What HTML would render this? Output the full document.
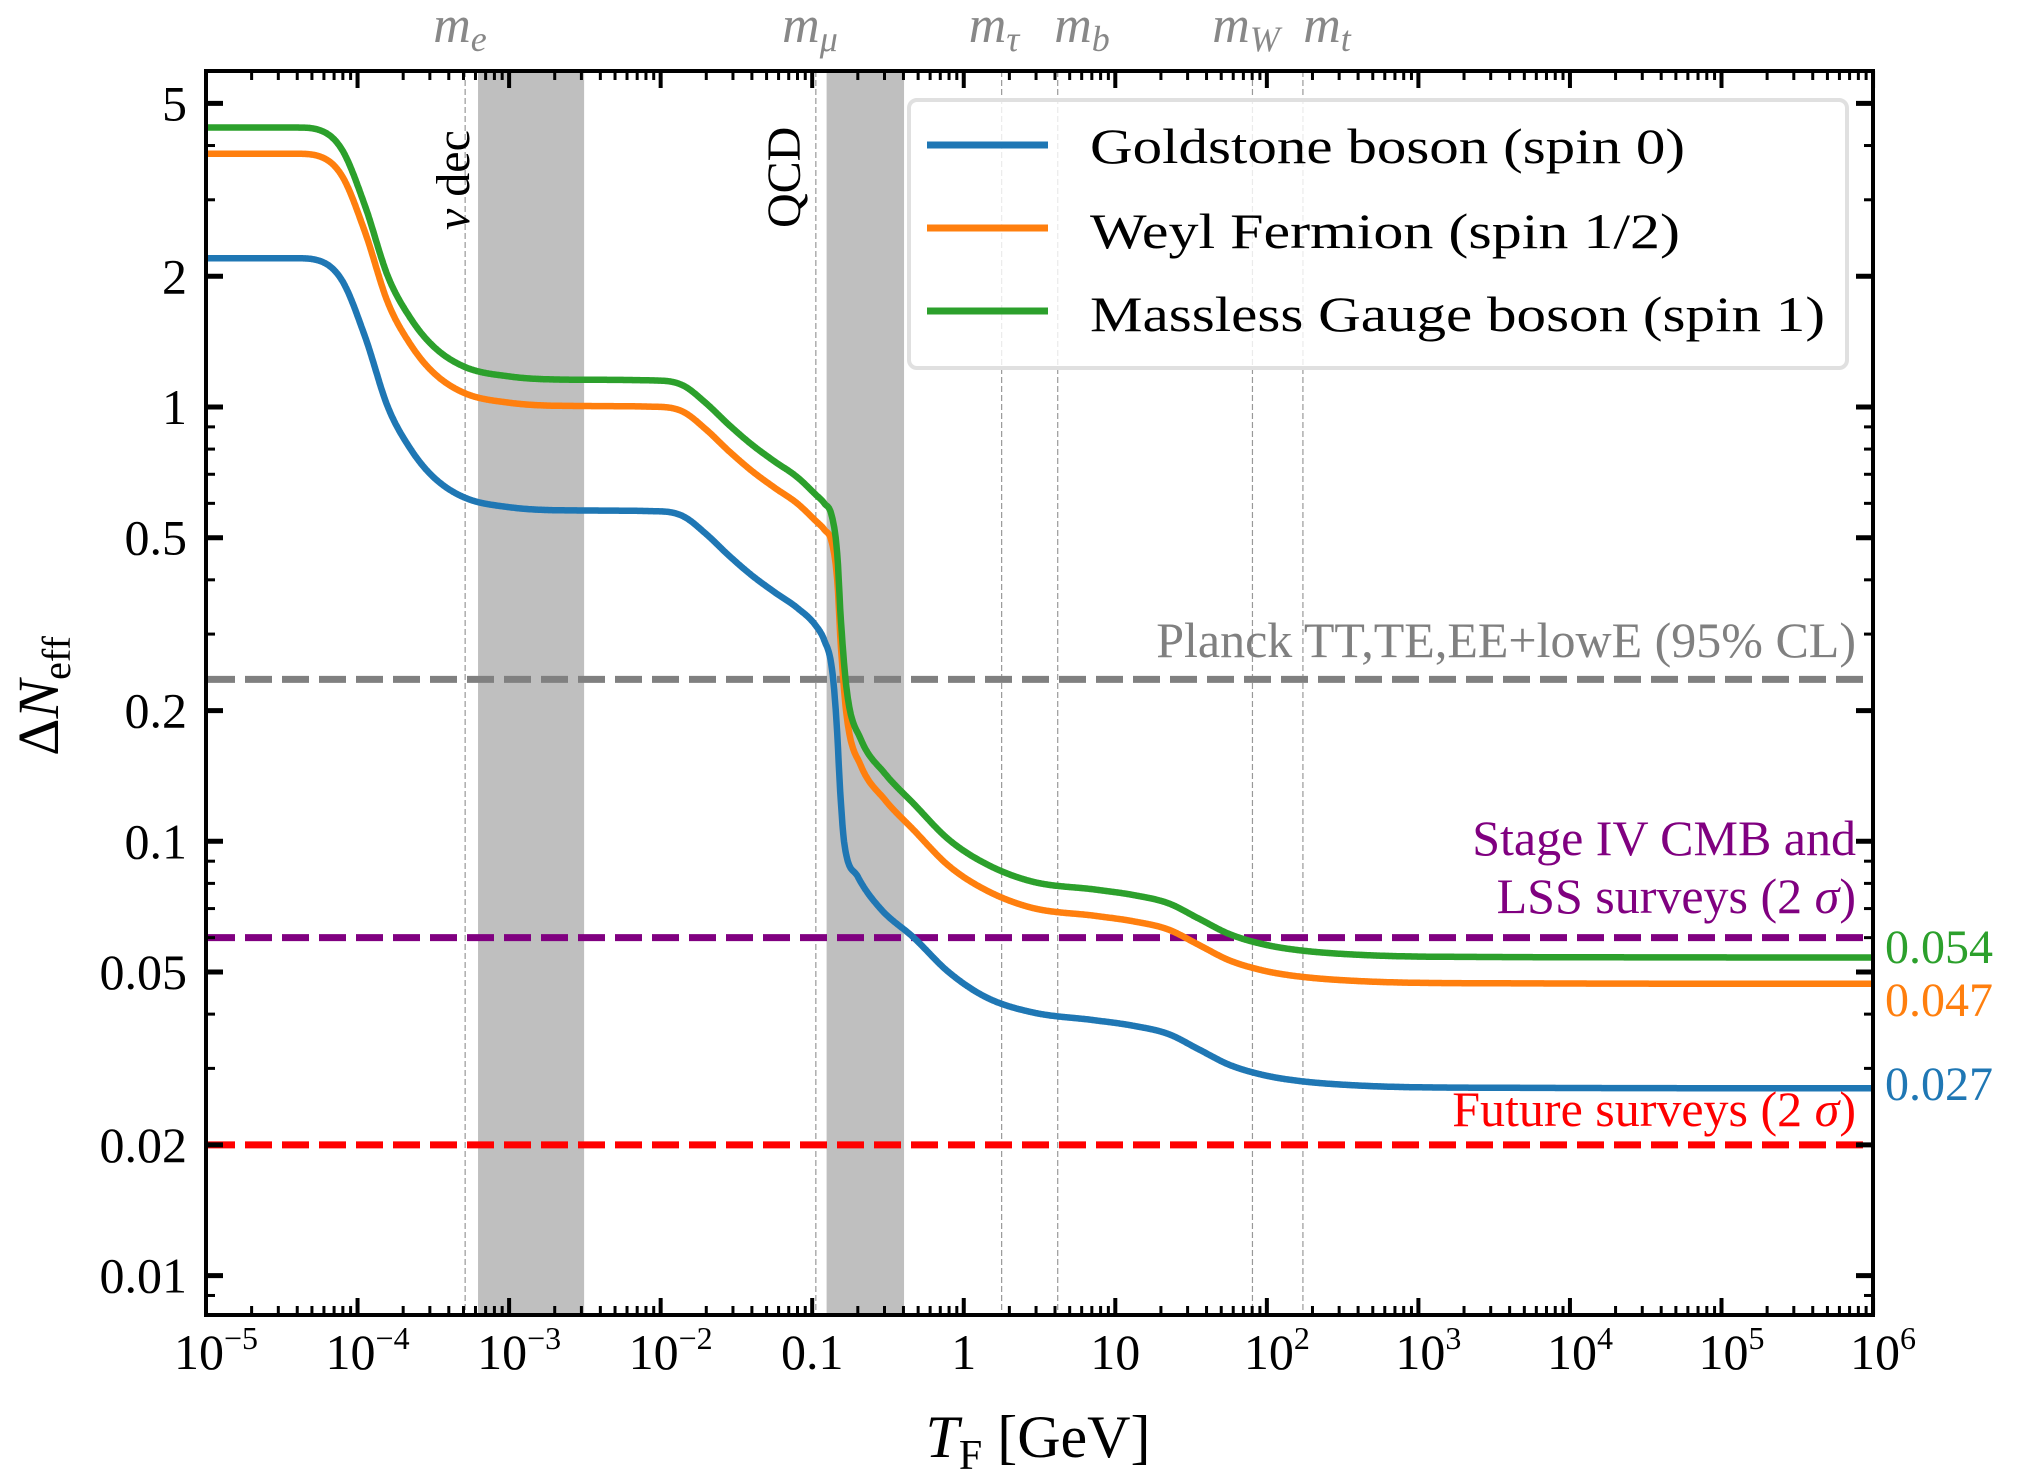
<!DOCTYPE html>
<html><head><meta charset="utf-8"><style>
html,body{margin:0;padding:0;background:#fff;width:2022px;height:1484px;overflow:hidden}
svg{display:block;font-family:"Liberation Serif","DejaVu Serif",serif}
</style></head><body>
<svg id="s" width="2022" height="1484" xmlns="http://www.w3.org/2000/svg"></svg>
<script>
const S=document.getElementById('s');
const L=206,R=1873,T=71,B=1315;
const X=lt=>L+(lt+5)*151.55;
const Y=v=>407-Math.log10(v)*434.3;
let h='';
h+=`<defs><clipPath id="c"><rect x="${L}" y="${T}" width="${R-L}" height="${B-T}"/></clipPath></defs>`;
h+=`<rect x="${X(-3.205)}" y="${T}" width="${X(-2.505)-X(-3.205)}" height="${B-T}" fill="#bfbfbf"/>`;
h+=`<rect x="${X(-0.905)}" y="${T}" width="${X(-0.394)-X(-0.905)}" height="${B-T}" fill="#bfbfbf"/>`;
const ms=[-3.29,-0.976,0.25,0.62,1.905,2.238];
ms.forEach(m=>{h+=`<line x1="${X(m)}" x2="${X(m)}" y1="${T}" y2="${B}" stroke="#999" stroke-width="1.2" stroke-dasharray="6 3"/>`;});
const tl=[[468,'e'],[818,'μ'],[1002,'τ'],[1090,'b'],[1254,'W'],[1335,'t']];
tl.forEach(t=>{h+=`<text x="${t[0]-8}" y="42" fill="#888" font-size="52" font-style="italic" text-anchor="middle">m<tspan font-size="36" dy="9">${t[1]}</tspan></text>`;});
[[0.236,'#808080'],[0.06,'#800080'],[0.02,'#ff0000']].forEach(d=>{h+=`<line x1="${L+2}" x2="1866" y1="${Y(d[0])}" y2="${Y(d[0])}" stroke="${d[1]}" stroke-width="7" stroke-dasharray="27 10"/>`;});
function interp(pts){
 const xs=pts.map(p=>p[0]),ys=pts.map(p=>Math.log10(p[1]));const n=xs.length;
 const d=[],m=new Array(n);
 for(let i=0;i<n-1;i++)d.push((ys[i+1]-ys[i])/(xs[i+1]-xs[i]));
 m[0]=d[0];m[n-1]=d[n-2];
 for(let i=1;i<n-1;i++){m[i]=(d[i-1]*d[i]<=0)?0:(d[i-1]+d[i])/2;}
 for(let i=0;i<n-1;i++){if(d[i]===0){m[i]=0;m[i+1]=0;continue;}const a=m[i]/d[i],b=m[i+1]/d[i];const s=a*a+b*b;if(s>9){const t=3/Math.sqrt(s);m[i]=t*a*d[i];m[i+1]=t*b*d[i];}}
 return x=>{let i=0;while(i<n-2&&x>xs[i+1])i++;const hh=xs[i+1]-xs[i],t=(x-xs[i])/hh;
  const h00=2*t*t*t-3*t*t+1,h10=t*t*t-2*t*t+t,h01=-2*t*t*t+3*t*t,h11=t*t*t-t*t;
  return Math.pow(10,h00*ys[i]+h10*hh*m[i]+h01*ys[i+1]+h11*hh*m[i+1]);};
}
const head=[[-5,2.2],[-4.4,2.2],[-4.25,2.17],[-4.1,1.95],[-3.95,1.45],[-3.8,1.0],[-3.65,0.8],[-3.5,0.69],[-3.3,0.62],[-3.0,0.588],[-2.6,0.578],[-2.0,0.575],[-1.85,0.56],[-1.7,0.51],[-1.55,0.455],[-1.4,0.41],[-1.25,0.375],[-1.1,0.345],[-0.98,0.315]];
const tail=[[0.45,0.0404],[0.87,0.0387],[1.12,0.0376],[1.35,0.036],[1.55,0.0332],[1.75,0.0306],[1.97,0.029],[2.2,0.0281],[2.6,0.0274],[3.2,0.0271],[6,0.027]];
const G=head.concat([[-0.92,0.29],[-0.87,0.25],[-0.84,0.19],[-0.815,0.13],[-0.79,0.1],[-0.7,0.083],[-0.55,0.07],[-0.33,0.06],[-0.1,0.05],[0.15,0.0437]],tail);
const OG=head.concat([[-0.92,0.3],[-0.87,0.28],[-0.835,0.23],[-0.81,0.16],[-0.77,0.11],[-0.68,0.086],[-0.52,0.0716],[-0.33,0.061],[-0.1,0.0505],[0.15,0.0443]],tail);
function path(pts,r){const f=interp(pts);let s='';for(let lt=-5;lt<=6.001;lt+=0.005){s+=(s?'L':'M')+X(lt).toFixed(1)+' '+Y(f(lt)*r).toFixed(1);}return s;}
h+=`<g clip-path="url(#c)" fill="none" stroke-width="6.5" stroke-linejoin="round">`;
h+=`<path d="${path(G,1)}" stroke="#1f77b4"/>`;
h+=`<path d="${path(OG,1.74)}" stroke="#ff7f0e"/>`;
h+=`<path d="${path(OG,2.0)}" stroke="#2ca02c"/>`;
h+=`</g>`;
h+=`<text transform="translate(469,230) rotate(-90)" font-size="48" fill="#000"><tspan font-style="italic">ν</tspan> dec</text>`;
h+=`<text transform="translate(800,228) rotate(-90)" font-size="48" fill="#000">QCD</text>`;
h+=`<text x="1856" y="657" font-size="50" fill="#808080" text-anchor="end">Planck TT,TE,EE+lowE (95% CL)</text>`;
h+=`<text x="1856" y="855" font-size="50" fill="#800080" text-anchor="end">Stage IV CMB and</text>`;
h+=`<text x="1856" y="913" font-size="50" fill="#800080" text-anchor="end">LSS surveys (2 <tspan font-style="italic">σ</tspan>)</text>`;
h+=`<text x="1856" y="1126" font-size="50" fill="#ff0000" text-anchor="end">Future surveys (2 <tspan font-style="italic">σ</tspan>)</text>`;
h+=`<text x="1885" y="963" font-size="48" fill="#2ca02c">0.054</text>`;
h+=`<text x="1885" y="1016" font-size="48" fill="#ff7f0e">0.047</text>`;
h+=`<text x="1885" y="1100" font-size="48" fill="#1f77b4">0.027</text>`;
h+=`<rect x="909" y="100" width="938" height="268" rx="8" fill="#fff" fill-opacity="0.8" stroke="#e0e0e0" stroke-width="4"/>`;
[['Goldstone boson (spin 0)','#1f77b4',145,163,595],['Weyl Fermion (spin 1/2)','#ff7f0e',228,248,590],['Massless Gauge boson (spin 1)','#2ca02c',311,331,735]].forEach(e=>{
h+=`<line x1="927" x2="1048" y1="${e[2]}" y2="${e[2]}" stroke="${e[1]}" stroke-width="7"/>`;
h+=`<text x="1090" y="${e[3]}" font-size="50" textLength="${e[4]}" lengthAdjust="spacingAndGlyphs">${e[0]}</text>`;});
h+=`<rect x="${L}" y="${T}" width="${R-L}" height="${B-T}" fill="none" stroke="#000" stroke-width="4"/>`;
for(let d=-5;d<=6;d++){const x=X(d);
 h+=`<line x1="${x}" x2="${x}" y1="${B}" y2="${B-17}" stroke="#000" stroke-width="4"/><line x1="${x}" x2="${x}" y1="${T}" y2="${T+17}" stroke="#000" stroke-width="4"/>`;
 if(d<6)for(let k=2;k<10;k++){const xm=X(d+Math.log10(k));h+=`<line x1="${xm}" x2="${xm}" y1="${B}" y2="${B-9}" stroke="#000" stroke-width="3"/><line x1="${xm}" x2="${xm}" y1="${T}" y2="${T+9}" stroke="#000" stroke-width="3"/>`;}
 let lab;
 if(d===-1)lab='0.1';else if(d===0)lab='1';else if(d===1)lab='10';else lab=`10<tspan font-size="32" dy="-20">${d<0?'−':''}${Math.abs(d)}</tspan>`;
 h+=`<text x="${x+((d<-1||d>1)?10:0)}" y="1369" font-size="50" text-anchor="middle">${lab}</text>`;
}
for(let d=-3;d<=0;d++){for(let k=1;k<10;k++){const v=k*Math.pow(10,d);if(v<0.0081||v>5.9)continue;const y=Y(v);const maj=(k===1);const len=maj?17:9;
 h+=`<line x1="${L}" x2="${L+len}" y1="${y}" y2="${y}" stroke="#000" stroke-width="${maj?4:3}"/><line x1="${R}" x2="${R-len}" y1="${y}" y2="${y}" stroke="#000" stroke-width="${maj?4:3}"/>`;}}
[[5,'5'],[2,'2'],[1,'1'],[0.5,'0.5'],[0.2,'0.2'],[0.1,'0.1'],[0.05,'0.05'],[0.02,'0.02'],[0.01,'0.01']].forEach(t=>{
 const y=Y(t[0]);
 h+=`<line x1="${L}" x2="${L+17}" y1="${y}" y2="${y}" stroke="#000" stroke-width="5"/><line x1="${R}" x2="${R-17}" y1="${y}" y2="${y}" stroke="#000" stroke-width="5"/>`;
 h+=`<text x="187" y="${y+17}" font-size="50" text-anchor="end">${t[1]}</text>`;});
h+=`<text transform="translate(58,696) rotate(-90)" font-size="58" text-anchor="middle">Δ<tspan font-style="italic">N</tspan><tspan font-size="40" dy="12">eff</tspan></text>`;
h+=`<text x="1038" y="1457" font-size="60" text-anchor="middle"><tspan font-style="italic">T</tspan><tspan font-size="42" dy="12">F</tspan><tspan dy="-12"> [GeV]</tspan></text>`;
S.innerHTML=h;
</script>
</body></html>
